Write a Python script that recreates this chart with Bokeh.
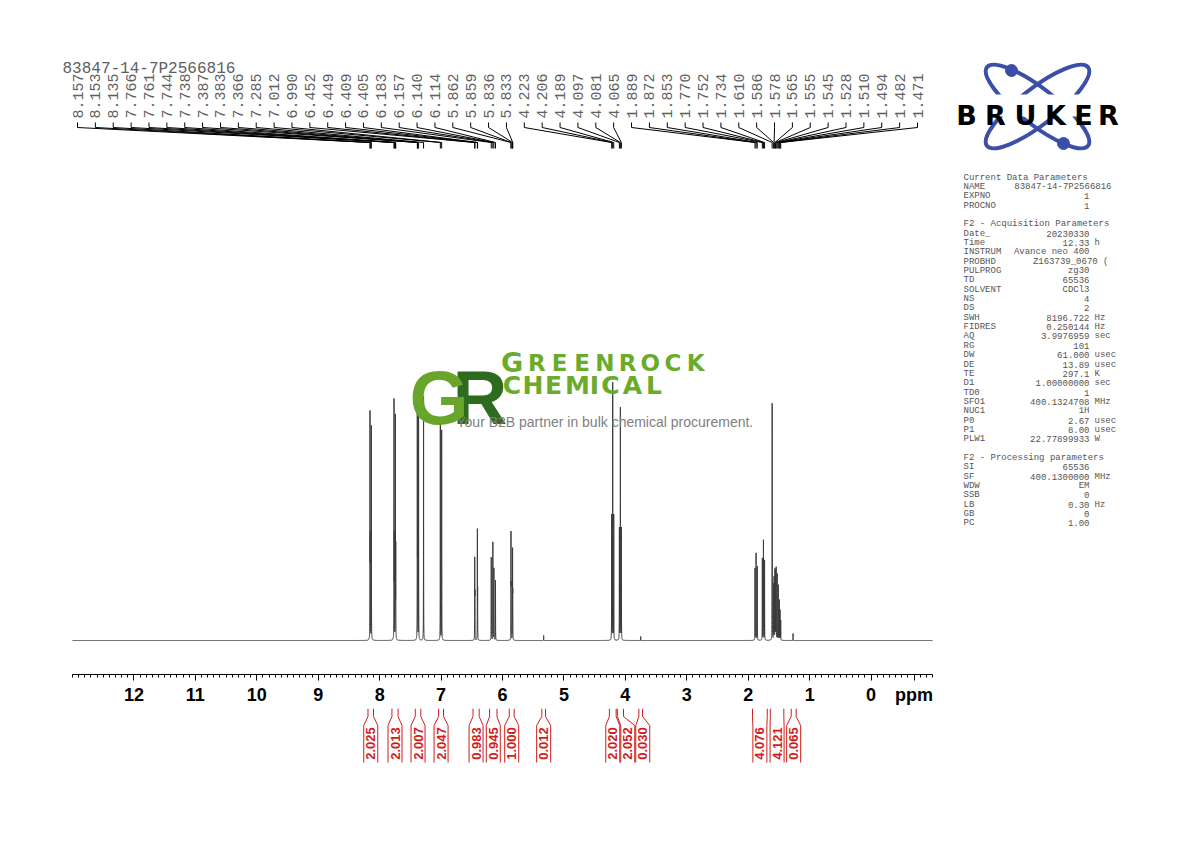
import numpy as np
from bokeh.plotting import figure
from bokeh.models import Range1d, LinearAxis, FixedTicker, CustomJSTickFormatter
from bokeh.layouts import column
from bokeh.embed import file_html
from bokeh.resources import INLINE
from bokeh.core.properties import value

# ---------------- data ----------------
sample_name = "83847-14-7P2566816"
peak_labels = [8.157, 8.153, 8.135, 7.766, 7.761, 7.744, 7.738, 7.387, 7.383, 7.366, 7.285,
               7.012, 6.990, 6.452, 6.449, 6.409, 6.405, 6.183, 6.157, 6.140, 6.114,
               5.862, 5.859, 5.836, 5.833, 4.223, 4.206, 4.189, 4.097, 4.081, 4.065,
               1.889, 1.872, 1.853, 1.770, 1.752, 1.734, 1.610, 1.586, 1.578, 1.565,
               1.555, 1.545, 1.528, 1.510, 1.494, 1.482, 1.471]
peak_heights = [222, 90, 214, 236, 95, 222, 90, 237, 95, 224, 244,
                218, 210, 78, 40, 108, 45, 83, 98, 72, 60,
                103, 45, 87, 40, 125, 257, 125, 112, 232, 112,
                72, 87, 74, 82, 100, 80, 237, 55, 62, 70,
                68, 72, 66, 55, 40, 30, 20]
minor_ppm = [5.33, 3.75, 1.27]
minor_heights = [5, 4, 7]

int_hi = [8.19, 7.80, 7.42, 7.04, 6.48, 6.21, 5.89, 5.36, 4.26, 4.13, 3.78, 1.93, 1.64, 1.30]
int_lo = [8.10, 7.70, 7.33, 6.96, 6.38, 6.09, 5.81, 5.30, 4.15, 4.03, 3.72, 1.69, 1.42, 1.22]
int_vals = ["2.025", "2.013", "2.007", "2.047", "0.983", "0.945", "1.000", "0.012",
            "2.020", "2.052", "0.030", "4.076", "4.121", "0.065"]

axis_ticks = list(range(0, 13))
unit_tick = -0.7  # where the "ppm" unit label sits

param_sections = [
    ("Current Data Parameters", [("NAME", "83847-14-7P2566816", ""), ("EXPNO", "1", ""), ("PROCNO", "1", "")]),
    ("F2 - Acquisition Parameters", [
        ("Date_", "20230330", ""), ("Time", "12.33", "h"), ("INSTRUM", "Avance neo 400", ""),
        ("PROBHD", "Z163739_0670 (", ""), ("PULPROG", "zg30", ""), ("TD", "65536", ""),
        ("SOLVENT", "CDCl3", ""), ("NS", "4", ""), ("DS", "2", ""), ("SWH", "8196.722", "Hz"),
        ("FIDRES", "0.250144", "Hz"), ("AQ", "3.9976959", "sec"), ("RG", "101", ""),
        ("DW", "61.000", "usec"), ("DE", "13.89", "usec"), ("TE", "297.1", "K"),
        ("D1", "1.00000000", "sec"), ("TD0", "1", ""), ("SFO1", "400.1324708", "MHz"),
        ("NUC1", "1H", ""), ("P0", "2.67", "usec"), ("P1", "8.00", "usec"),
        ("PLW1", "22.77899933", "W")]),
    ("F2 - Processing parameters", [
        ("SI", "65536", ""), ("SF", "400.1300000", "MHz"), ("WDW", "EM", ""), ("SSB", "0", ""),
        ("LB", "0.30", "Hz"), ("GB", "0", ""), ("PC", "1.00", "")]),
]

# ---------------- layout helpers ----------------
W = 1180
PXPPM = 860.0 / 14.0


def X(px):
    """page x pixel -> ppm"""
    return 13.0 - (px - 72.0) / PXPPM


def P(ppm):
    """ppm -> page x pixel"""
    return 72.0 + (13.0 - ppm) * PXPPM


# ---------------- spectrum line ----------------
all_ppm = np.array(peak_labels + minor_ppm)
all_h = np.array(peak_heights + minor_heights, dtype=float)
grid = [np.linspace(-1, 13, 2801)]
for c in all_ppm:
    grid.append(c + np.linspace(-0.03, 0.03, 121))
xs = np.unique(np.round(np.concatenate(grid), 6))
gam = 0.0012
ys = np.zeros_like(xs)
for c, h in zip(all_ppm, all_h):
    ys += h / (1.0 + ((xs - c) / gam) ** 2)

pA = figure(width=W, height=708, x_range=Range1d(X(0), X(W)), y_range=Range1d(674, 0),
            x_axis_type=None, y_axis_type=None, toolbar_location=None, output_backend="svg",
            min_border=0, min_border_bottom=34, outline_line_color=None,
            background_fill_color="white", border_fill_color="white")
pA.extra_y_ranges = {"spec": Range1d(-34, 640)}
pA.line(xs, ys, y_range_name="spec", line_color="#3a3a3a", line_width=1)

# ppm axis
minor = [round(-1 + 0.1 * i, 1) for i in range(141)]
ax = LinearAxis(bounds=(-1, 13), ticker=FixedTicker(ticks=axis_ticks + [unit_tick], minor_ticks=minor))
ax.formatter = CustomJSTickFormatter(code="return (Math.abs(tick + 0.7) < 1e-6) ? 'ppm' : tick.toFixed(0);")
ax.axis_line_color = "black"
ax.major_tick_line_color = "black"
ax.minor_tick_line_color = "black"
ax.major_tick_out = 6
ax.major_tick_in = 0
ax.minor_tick_out = 3
ax.minor_tick_in = 0
ax.major_label_standoff = 4
ax.major_label_text_font = "Liberation Sans"
ax.major_label_text_font_style = "bold"
ax.major_label_text_font_size = "18px"
ax.major_label_text_color = "black"
pA.add_layout(ax, "below")

# peak labels and connectors
n = len(peak_labels)
lab_px = [77 + i * (917 - 77) / (n - 1) for i in range(n)]
lab_x = [X(v) for v in lab_px]
pA.text(x=lab_x, y=[118] * n, text=[f"{v:.3f}" for v in peak_labels], angle=np.pi / 2,
        text_align="left", text_baseline="middle", text_font=value("Liberation Mono"),
        text_font_size="15px", text_color="#606060")
pA.multi_line(xs=[[lx, lx, pk, pk] for lx, pk in zip(lab_x, peak_labels)],
              ys=[[122, 127, 142, 148]] * n, line_color="black", line_width=1)

pA.text(x=[X(62)], y=[68], text=[sample_name], text_align="left", text_baseline="middle",
        text_font=value("Liberation Mono"), text_font_size="16px", text_color="#606060")

# parameters panel
k = 0
hx, hy, hs = [], [], []
nx, ny, ns = [], [], []
vx, vy, vs = [], [], []
ux, uy, us = [], [], []
for header, rows in param_sections:
    y = 177 + 9.35 * k
    hx.append(X(963)); hy.append(y); hs.append(header)
    k += 1
    for name, val, unit in rows:
        y = 177 + 9.35 * k
        nx.append(X(963)); ny.append(y); ns.append(name)
        right = 1111 if name == "NAME" else (1108 if name == "PROBHD" else 1089)
        vx.append(X(right)); vy.append(y); vs.append(val)
        if unit:
            ux.append(X(1094)); uy.append(y); us.append(unit)
        k += 1
    k += 1
pfont = dict(text_font=value("Liberation Mono"), text_font_size="9px", text_color="#555555",
             text_baseline="middle")
pA.text(x=hx, y=hy, text=hs, text_align="left", **pfont)
pA.text(x=nx, y=ny, text=ns, text_align="left", **pfont)
pA.text(x=vx, y=vy, text=vs, text_align="right", **pfont)
pA.text(x=ux, y=uy, text=us, text_align="left", **pfont)

# Bruker logo
blue = "#3b4fa8"
pA.ellipse(x=[X(1037)] * 2, y=[106, 106], width=[128, 128], height=[36, 36],
           width_units="screen", height_units="screen", angle=[0.66, -0.66],
           fill_color=None, line_color=blue, line_width=4)
pA.rect(x=[X(1036)], y=[105], width=[172], height=[22], width_units="screen",
        height_units="screen", fill_color="white", line_color=None)
pA.scatter(x=[X(1011), X(1063)], y=[70, 143], size=12, color=blue)
pA.text(x=[X(v) for v in [966, 995, 1025, 1055, 1083, 1108]], y=[115] * 6,
        text=list("BRUKER"), text_align="center", text_baseline="alphabetic",
        text_font=value("DejaVu Sans"), text_font_style="bold", text_font_size="27px",
        text_color="black")

# Greenrock logo
pA.text(x=[X(452)], y=[397], text=["R"], text_align="left", text_baseline="alphabetic",
        text_font=value("Liberation Sans"), text_font_style="bold", text_font_size="76px",
        text_color="#2e6b1f")
pA.text(x=[X(409)], y=[397], text=["G"], text_align="left", text_baseline="alphabetic",
        text_font=value("Liberation Sans"), text_font_style="bold", text_font_size="76px",
        text_color="#69a52b")
green = "#6aab2b"
pA.text(x=[X(511.5)], y=[362], text=["G"], text_align="center", text_baseline="alphabetic",
        text_font=value("DejaVu Sans"), text_font_style="bold", text_font_size="27px",
        text_color=green)
pA.text(x=[X(536.3 + 22.7 * i) for i in range(8)], y=[362] * 8, text=list("REENROCK"),
        text_align="center", text_baseline="alphabetic", text_font=value("DejaVu Sans"),
        text_font_style="bold", text_font_size="23px", text_color=green)
pA.text(x=[X(v) for v in [511.5, 532.5, 553, 577, 594, 610, 632, 653.5]], y=[385] * 8,
        text=list("CHEMICAL"), text_align="center", text_baseline="alphabetic",
        text_font=value("DejaVu Sans"), text_font_style="bold", text_font_size="25px",
        text_color=green)
pA.text(x=[X(456)], y=[421], text=["Your B2B partner in bulk chemical procurement."],
        text_align="left", text_baseline="middle", text_font=value("Liberation Sans"),
        text_font_size="14px", text_color="#808080")

# ---------------- integrals ----------------
pB = figure(width=W, height=126, x_range=pA.x_range, y_range=Range1d(834, 708),
            x_axis_type=None, y_axis_type=None, toolbar_location=None, output_backend="svg",
            min_border=0, outline_line_color=None,
            background_fill_color="white", border_fill_color="white")
red = "#d01c1c"
cent = [(P(h) + P(l)) / 2 for h, l in zip(int_hi, int_lo)]
for i in range(1, len(cent)):
    cent[i] = max(cent[i], cent[i - 1] + 15)
bx, by = [], []
for h, l, c in zip(int_hi, int_lo, cent):
    bx.append([h, h, X(c - 7), X(c - 7)])
    by.append([708, 716, 725, 762])
    bx.append([l, l, X(c + 7), X(c + 7)])
    by.append([708, 716, 725, 762])
pB.multi_line(xs=bx, ys=by, line_color=red, line_width=1)
pB.text(x=[X(c) for c in cent], y=[743] * len(cent), text=int_vals, angle=np.pi / 2,
        text_align="center", text_baseline="middle", text_font=value("Liberation Sans"),
        text_font_style="bold", text_font_size="13px", text_color=red)

layout = column(pA, pB)
open("out.html", "w").write(file_html(layout, INLINE))
